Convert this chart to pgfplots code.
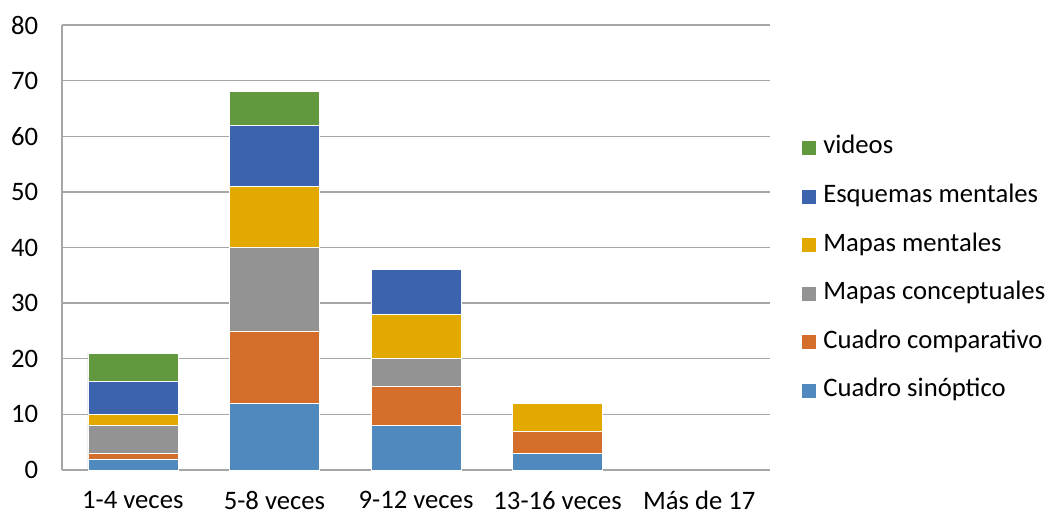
\documentclass[border=0pt]{standalone}
\usepackage{pgfplots}
\pgfplotsset{compat=1.18}
\usepackage{fontspec}
\setmainfont{Carlito}
\definecolor{c1}{HTML}{4F89BD}
\definecolor{c2}{HTML}{D46E2A}
\definecolor{c3}{HTML}{939393}
\definecolor{c4}{HTML}{E2A900}
\definecolor{c5}{HTML}{3C64AE}
\definecolor{c6}{HTML}{62993E}
\definecolor{gridc}{HTML}{A6A6A6}
\begin{document}
\fontsize{20}{24}\selectfont
\begin{tikzpicture}
\begin{axis}[
  at={(0,0)}, anchor=south west,
  scale only axis,
  width=531pt, height=333.75pt,
  ybar stacked,
  bar width=67.5pt,
  xmin=-0.5, xmax=4.5,
  ymin=0, ymax=80,
  ytick={0,10,...,80},
  xtick={0,1,2,3,4},
  xticklabels={1-4 veces,5-8 veces,9-12 veces,13-16 veces,Más de 17},
  major tick length=0pt,
  ymajorgrids,
  grid style={gridc, line width=1pt},
  axis x line*=bottom, axis y line*=left,
  axis line style={gridc, line width=1pt, -},
  tick label style={font=\fontsize{20}{24}\selectfont},
  /pgf/number format/assume math mode=true,
  yticklabel style={xshift=-11pt},
  xticklabel style={yshift=-9pt},
  legend style={draw=none, fill=none, at={(1.038,0.451)}, anchor=west,
    font=\fontsize{20}{24}\selectfont,
    row sep=15.4pt,
    nodes={inner sep=1pt, text height=14pt, text depth=5pt},
    /tikz/every odd column/.append style={column sep=4pt}},
  legend cell align=left,
  reverse legend,
  legend image code/.code={\fill[#1] (0pt,-5.6pt) rectangle (11.2pt,5.6pt);},
]
\addplot[fill=c1, draw=white, line width=0.4pt] coordinates {(0,2) (1,12) (2,8) (3,3) (4,0)};
\addlegendentry{Cuadro sinóptico}
\addplot[fill=c2, draw=white, line width=0.4pt] coordinates {(0,1) (1,13) (2,7) (3,4) (4,0)};
\addlegendentry{Cuadro comparativo}
\addplot[fill=c3, draw=white, line width=0.4pt] coordinates {(0,5) (1,15) (2,5) (3,0) (4,0)};
\addlegendentry{Mapas conceptuales}
\addplot[fill=c4, draw=white, line width=0.4pt] coordinates {(0,2) (1,11) (2,8) (3,5) (4,0)};
\addlegendentry{Mapas mentales}
\addplot[fill=c5, draw=white, line width=0.4pt] coordinates {(0,6) (1,11) (2,8) (3,0) (4,0)};
\addlegendentry{Esquemas mentales}
\addplot[fill=c6, draw=white, line width=0.4pt] coordinates {(0,5) (1,6) (2,0) (3,0) (4,0)};
\addlegendentry{videos}
\end{axis}
\pgfresetboundingbox
\path (-46.5pt,-33.75pt) rectangle (740.25pt,352.5pt);
\end{tikzpicture}
\end{document}
